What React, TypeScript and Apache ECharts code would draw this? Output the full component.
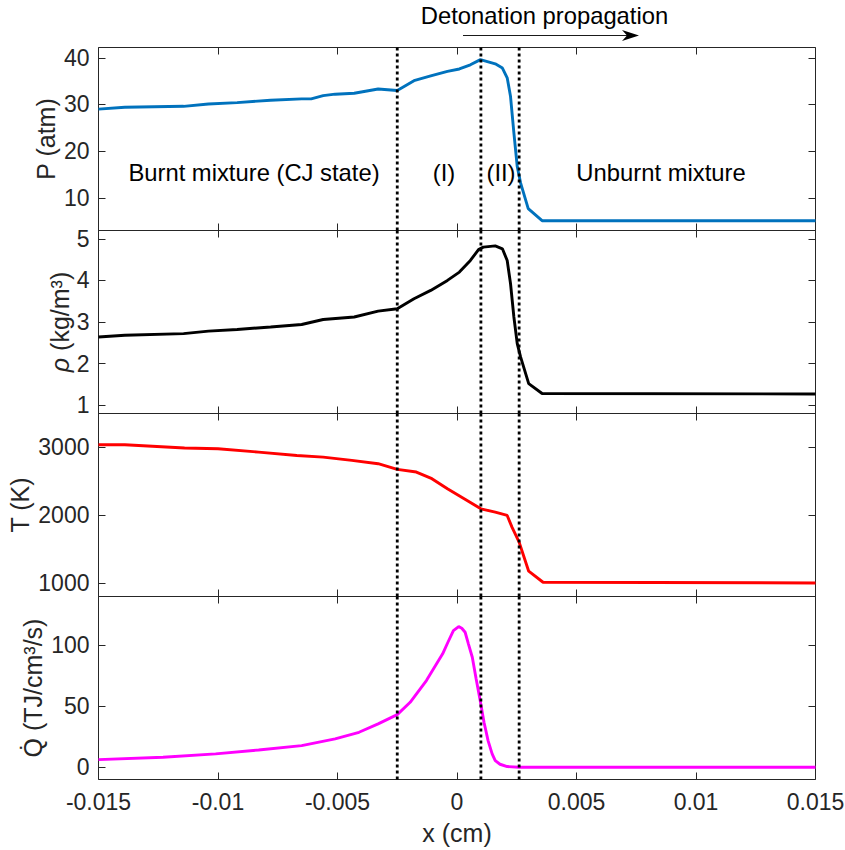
import React, { useEffect, useRef } from "react";
import * as echarts from "echarts";

// ---------- data ----------
const X_RANGE = [-0.015, 0.015];
const X_TICK_STEP = 0.005;
const REGION_LINES = [-0.0025, 0.001, 0.0026];

const P_X = [-0.015, -0.0139, -0.01144, -0.0104, -0.0092, -0.0078, -0.0065, -0.0061, -0.0056, -0.0051, -0.0043, -0.0033, -0.0025, -0.0018, -0.0011, -0.0004, 0.0001, 0.00056, 0.00098, 0.0016, 0.0019, 0.0021, 0.00224, 0.00238, 0.00252, 0.00266, 0.00298, 0.00356, 0.015];
const P_V = [29.0, 29.4, 29.6, 30.1, 30.4, 30.9, 31.2, 31.2, 31.9, 32.2, 32.4, 33.3, 33.0, 35.1, 36.1, 37.1, 37.6, 38.5, 39.6, 38.7, 37.8, 35.7, 31.7, 23.9, 16.7, 13.2, 7.7, 5.1, 5.1];

const RHO_X = [-0.015, -0.0139, -0.01144, -0.0104, -0.0092, -0.0078, -0.0065, -0.0056, -0.0043, -0.0033, -0.0025, -0.0018, -0.0011, -0.0004, 0.0001, 0.00056, 0.0009, 0.0011, 0.0016, 0.0019, 0.0021, 0.00224, 0.00238, 0.00252, 0.00266, 0.003, 0.00356, 0.015];
const RHO_V = [2.64, 2.68, 2.72, 2.78, 2.82, 2.88, 2.94, 3.06, 3.12, 3.26, 3.32, 3.56, 3.76, 4.0, 4.2, 4.48, 4.74, 4.8, 4.83, 4.76, 4.48, 3.92, 3.12, 2.48, 2.16, 1.52, 1.28, 1.27];

const T_X = [-0.015, -0.0139, -0.0114, -0.01, -0.0083, -0.0067, -0.0056, -0.0044, -0.0033, -0.0025, -0.0017, -0.00105, -0.0004, 0.0003, 0.001, 0.0016, 0.0021, 0.0023, 0.0026, 0.003, 0.0036, 0.015];
const T_V = [3040, 3040, 2990, 2980, 2930, 2880, 2857, 2808, 2759, 2675, 2636, 2538, 2390, 2242, 2094, 2044, 1996, 1823, 1601, 1173, 1010, 1000];

const Q_X = [-0.015, -0.0123, -0.0101, -0.0083, -0.0065, -0.0051, -0.0041, -0.0033, -0.0025, -0.00196, -0.00128, -0.0006, -0.00038, -0.00015, 0.00007, 0.0002, 0.00034, 0.00048, 0.00064, 0.0008, 0.00097, 0.00113, 0.0013, 0.00147, 0.0016, 0.0018, 0.0021, 0.0026, 0.015];
const Q_V = [6.3, 8.2, 11.0, 14.2, 17.8, 23.3, 28.7, 35.6, 43.2, 53.3, 71.1, 93, 102.5, 112, 115.3, 114, 110.7, 101, 90.2, 72.5, 54.7, 36.9, 21.9, 11, 5.5, 2.5, 0.6, 0, 0];

const P_TICKS = [10, 20, 30, 40];
const RHO_TICKS = [1, 2, 3, 4, 5];
const T_TICKS = [1000, 2000, 3000];
const Q_TICKS = [0, 50, 100];

const PANELS = [
  { xs: P_X, vs: P_V, ticks: P_TICKS, range: [3, 42.2], color: "#0072BD", name: "P (atm)", gap: 40 },
  { xs: RHO_X, vs: RHO_V, ticks: RHO_TICKS, range: [0.8, 5.2], color: "#000000", name: "{i|ρ} (kg/m³)", gap: 26 },
  { xs: T_X, vs: T_V, ticks: T_TICKS, range: [800, 3500], color: "#FF0000", name: "T (K)", gap: 66 },
  { xs: Q_X, vs: Q_V, ticks: Q_TICKS, range: [-10, 140], color: "#FF00FF", name: "Q\u0307 (TJ/cm³/s)", gap: 53 },
];

const TITLE = "Detonation propagation";
const REGION_TEXTS = ["Burnt mixture (CJ state)", "(I)", "(II)", "Unburnt mixture"];
const X_NAME = "x (cm)";

const FONT = "'Liberation Sans', Arial, Helvetica, sans-serif";
const AX = "#262626";
const NAME_SIZE = 25;
const TEXT_SIZE = 23.8;

export default function App() {
  const ref = useRef<HTMLDivElement>(null);
  useEffect(() => {
    if (!ref.current) return;
    const chart = echarts.init(ref.current, null, { renderer: "svg" });
    const left = 98.5;
    const width = 717;
    const tops = [47.5, 230.5, 413.5, 596.5];
    const h = 183;

    const grid: any[] = [];
    const xAxis: any[] = [];
    const yAxis: any[] = [];
    const series: any[] = [];

    PANELS.forEach((p, i) => {
      grid.push({
        left, width, top: tops[i], height: h,
        containLabel: false, outerBoundsMode: "none",
        show: true, borderColor: AX, borderWidth: 1, backgroundColor: "transparent",
      });
      const isLast = i === PANELS.length - 1;
      ["bottom", "top"].forEach((pos) => {
        xAxis.push({
          type: "value", gridIndex: i, position: pos,
          min: X_RANGE[0], max: X_RANGE[1], interval: X_TICK_STEP,
          axisLine: { show: false, onZero: false },
          axisTick: { show: true, inside: true, length: 7, lineStyle: { color: AX, width: 1 } },
          axisLabel: {
            show: isLast && pos === "bottom",
            fontSize: 23, fontFamily: FONT, color: AX, margin: 11,
            formatter: (v: number) => String(+v.toFixed(4)),
          },
          splitLine: { show: false },
          name: isLast && pos === "bottom" ? X_NAME : "",
          nameLocation: "middle", nameGap: 41, nameMoveOverlap: false,
          nameTextStyle: { fontSize: NAME_SIZE, fontFamily: FONT, color: AX },
        });
      });
      ["left", "right"].forEach((pos) => {
        yAxis.push({
          type: "value", gridIndex: i, position: pos,
          min: p.range[0], max: p.range[1],
          axisLine: { show: false, onZero: false },
          axisTick: { show: true, inside: true, length: 7, customValues: p.ticks, lineStyle: { color: AX, width: 1 } },
          axisLabel: {
            show: pos === "left", customValues: p.ticks,
            fontSize: 23, fontFamily: FONT, color: AX, margin: 9,
            formatter: (v: number) => String(v),
          },
          splitLine: { show: false },
          name: pos === "left" ? p.name : "",
          nameLocation: "middle", nameGap: p.gap, nameRotate: 90, nameMoveOverlap: false,
          nameTextStyle: {
            fontSize: NAME_SIZE, fontFamily: FONT, color: AX,
            rich: { i: { fontSize: NAME_SIZE, fontFamily: FONT, fontStyle: "italic", color: AX } },
          },
        });
      });
      series.push({
        type: "line",
        xAxisIndex: i * 2, yAxisIndex: i * 2,
        data: p.xs.map((x, k) => [x, p.vs[k]]),
        showSymbol: false, symbol: "none",
        lineStyle: { color: p.color, width: 2.9 },
        itemStyle: { color: p.color },
        z: 3,
      });
      REGION_LINES.forEach((x) => {
        series.push({
          type: "line",
          xAxisIndex: i * 2, yAxisIndex: i * 2,
          data: [[x, p.range[0]], [x, p.range[1]]],
          showSymbol: false, symbol: "none", silent: true,
          lineStyle: { color: "#000", width: 2.8, type: [3, 3] },
          z: 4,
        });
      });
    });

    const txt = (text: string, x: number, y: number) => ({
      type: "text", x, y, z: 10,
      style: { text, fontSize: TEXT_SIZE, fontFamily: FONT, fill: "#000", align: "center", verticalAlign: "middle" },
    });

    chart.setOption({
      animation: false,
      backgroundColor: "#fff",
      grid, xAxis, yAxis, series,
      graphic: [
        txt(TITLE, 544.5, 15),
        { type: "line", z: 10, shape: { x1: 463, y1: 35.5, x2: 630, y2: 35.5 }, style: { stroke: "#1a1a1a", lineWidth: 1.2 } },
        { type: "polygon", z: 10, shape: { points: [[639, 35.5], [622, 30], [627, 35.5], [622, 41]] }, style: { fill: "#000" } },
        txt(REGION_TEXTS[0], 254, 172),
        txt(REGION_TEXTS[1], 444, 172),
        txt(REGION_TEXTS[2], 501, 172),
        txt(REGION_TEXTS[3], 661, 172),
      ],
    });
    return () => chart.dispose();
  }, []);
  return <div ref={ref} style={{ position: "fixed", left: 0, top: 0, width: 845, height: 850 }} />;
}
